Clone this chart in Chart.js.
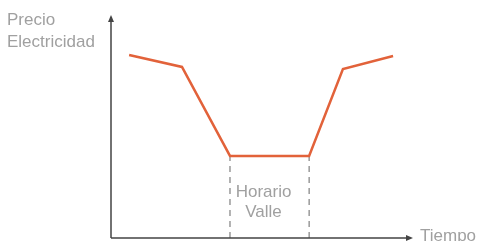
<!DOCTYPE html>
<html>
<head>
<meta charset="utf-8">
<script src="https://cdn.jsdelivr.net/npm/chart.js@4"></script>
<style>
    html, body { margin: 0; padding: 0; background: #fff; }
    #wrap { width: 479px; height: 241px; position: relative; }
</style>
</head>
<body>
<div id="wrap"><canvas id="chart"></canvas></div>
<script>
// 电价曲线（相对单位）
const timePoints = [6, 23.5, 39.4, 65.6, 76.8, 93.4];
const priceValues = [82.1, 76.7, 36.8, 36.8, 75.8, 81.6];
// 谷时段边界
const valleyStart = 39.4;
const valleyEnd = 65.6;
const valleyLevel = 36.8;
const yLabel = ['Precio', 'Electricidad'];
const xLabel = 'Tiempo';
const valleyLabel = ['Horario', 'Valle'];

const lineColor = '#e2623a';
const axisColor = '#444';
const textColor = '#a0a0a0';
const fontFamily = 'Helvetica, "Liberation Sans", Arial, sans-serif';

// 画坐标轴和文字
const axesPlugin = {
    id: 'axesPlugin',
    afterDraw(chart) {
        const ctx = chart.ctx;
        const x = chart.scales.x;
        const y = chart.scales.y;
        const x0 = x.getPixelForValue(0);
        const x1 = x.getPixelForValue(100);
        const y0 = y.getPixelForValue(0);
        const y1 = y.getPixelForValue(100);

        ctx.save();
        ctx.strokeStyle = axisColor;
        ctx.fillStyle = axisColor;
        ctx.lineWidth = 1.5;
        ctx.beginPath();
        ctx.moveTo(x0, y0);
        ctx.lineTo(x0, y1 + 4);
        ctx.moveTo(x0, y0);
        ctx.lineTo(x1 - 4, y0);
        ctx.stroke();

        // 箭头
        ctx.beginPath();
        ctx.moveTo(x0, y1);
        ctx.lineTo(x0 - 3, y1 + 7);
        ctx.lineTo(x0 + 3, y1 + 7);
        ctx.closePath();
        ctx.fill();
        ctx.beginPath();
        ctx.moveTo(x1, y0);
        ctx.lineTo(x1 - 7, y0 - 3);
        ctx.lineTo(x1 - 7, y0 + 3);
        ctx.closePath();
        ctx.fill();

        ctx.fillStyle = textColor;
        ctx.font = '17px ' + fontFamily;
        ctx.textBaseline = 'alphabetic';
        ctx.textAlign = 'left';
        ctx.fillText(yLabel[0], 7, 25);
        ctx.fillText(yLabel[1], 7, 47);
        ctx.fillText(xLabel, x1 + 7, y0 + 3);

        const cx = (x.getPixelForValue(valleyStart) + x.getPixelForValue(valleyEnd)) / 2 - 6;
        ctx.textAlign = 'center';
        ctx.fillText(valleyLabel[0], cx, 197);
        ctx.fillText(valleyLabel[1], cx, 217);
        ctx.restore();
    }
};

new Chart(document.getElementById('chart'), {
    type: 'line',
    data: {
        datasets: [
            {
                data: timePoints.map((t, i) => ({ x: t, y: priceValues[i] })),
                borderColor: lineColor,
                borderWidth: 2.5,
                pointRadius: 0,
                tension: 0
            },
            {
                data: [{ x: valleyStart, y: 0 }, { x: valleyStart, y: valleyLevel }],
                borderColor: '#666',
                borderWidth: 1,
                borderDash: [6, 5],
                pointRadius: 0
            },
            {
                data: [{ x: valleyEnd, y: 0 }, { x: valleyEnd, y: valleyLevel }],
                borderColor: '#666',
                borderWidth: 1,
                borderDash: [6, 5],
                pointRadius: 0
            }
        ]
    },
    options: {
        responsive: true,
        maintainAspectRatio: false,
        animation: false,
        layout: { padding: { left: 111, right: 66, top: 15, bottom: 3 } },
        plugins: { legend: { display: false }, tooltip: { enabled: false } },
        scales: {
            x: { type: 'linear', min: 0, max: 100, display: false },
            y: { min: 0, max: 100, display: false }
        }
    },
    plugins: [axesPlugin]
});
</script>
</body>
</html>
